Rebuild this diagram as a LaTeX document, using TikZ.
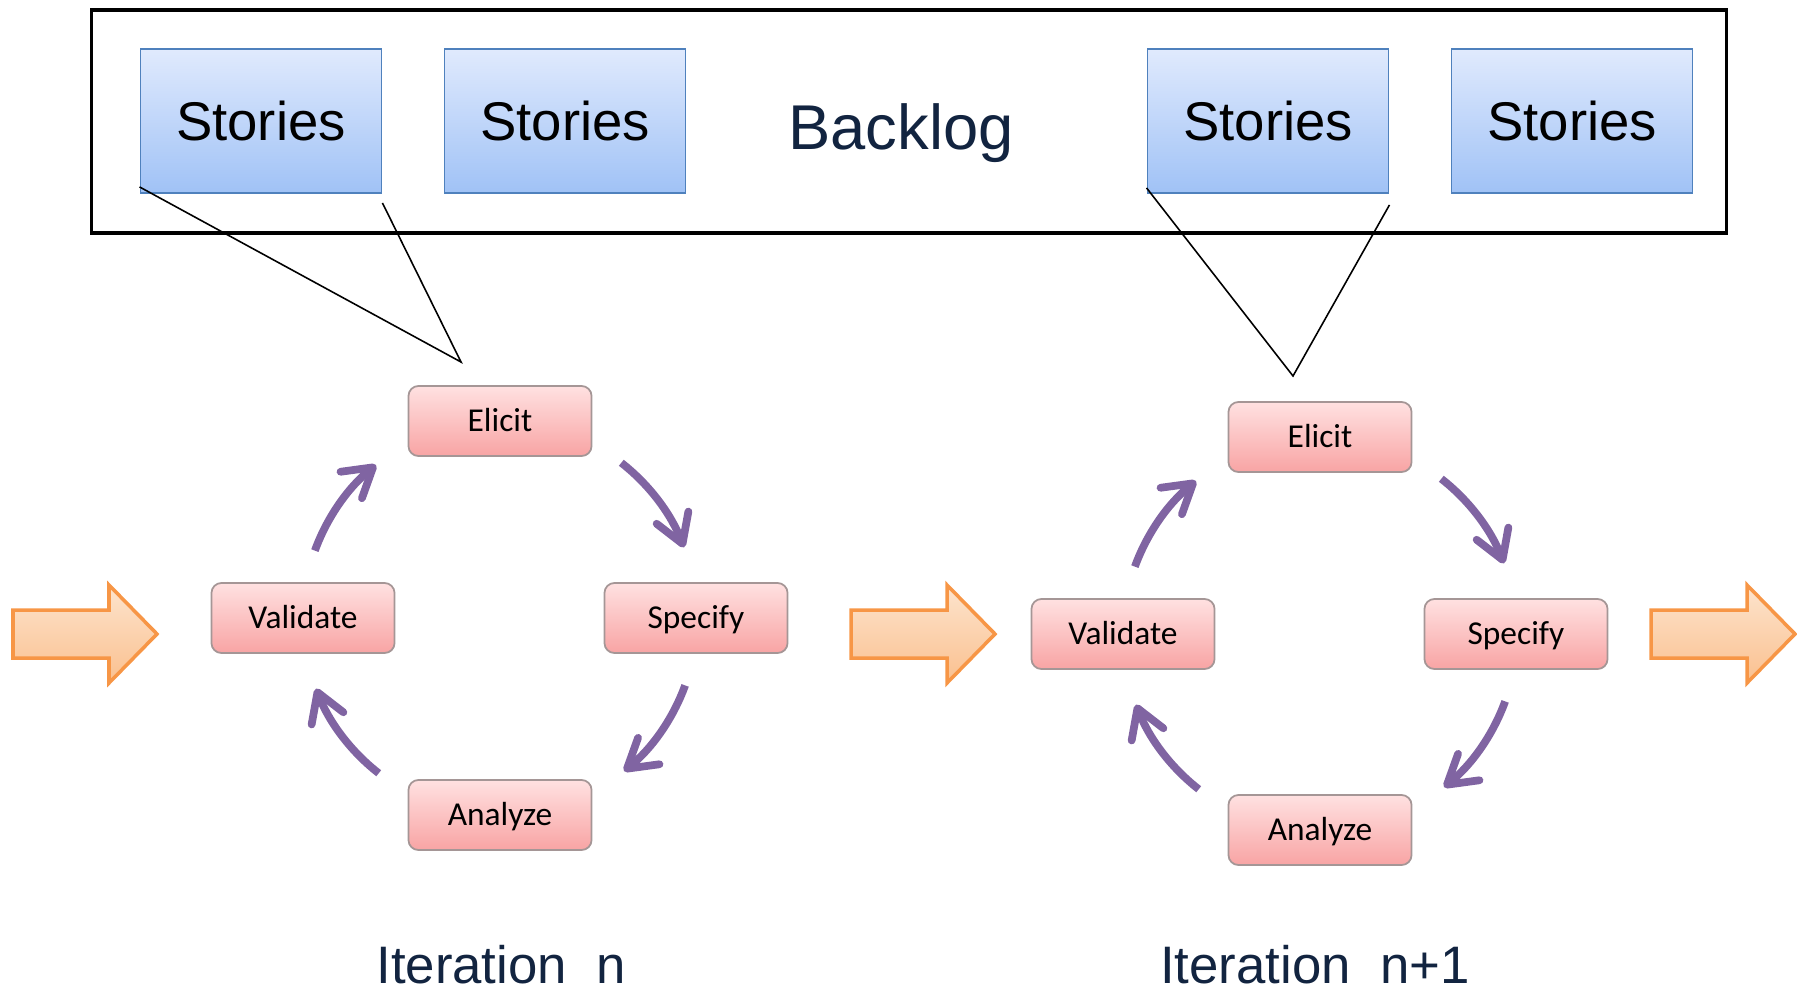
\documentclass[tikz,border=0pt]{standalone}
\usepackage{fontspec}
\setmainfont{Liberation Sans}
\newfontfamily\boxfont{Carlito}
\usetikzlibrary{arrows.meta}
\definecolor{navy}{RGB}{18,36,64}
\definecolor{storyline}{RGB}{79,129,189}
\definecolor{storytop}{RGB}{224,234,253}
\definecolor{storybot}{RGB}{160,194,246}
\definecolor{stageline}{RGB}{165,150,150}
\definecolor{stagetop}{RGB}{255,225,225}
\definecolor{stagebot}{RGB}{248,164,164}
\definecolor{purp}{RGB}{128,100,162}
\definecolor{flowline}{RGB}{247,150,70}
\definecolor{flowtop}{RGB}{253,228,205}
\definecolor{flowbot}{RGB}{250,192,143}

\begin{document}
\begin{tikzpicture}[x=0.01cm,y=0.01cm,
  storybox/.style={draw=storyline,line width=0.5pt,top color=storytop,bottom color=storybot,
    minimum width=2.41cm,minimum height=1.44cm,font=\fontsize{15.5pt}{18pt}\selectfont,
    text height=11.1pt,text depth=0pt},
  stagebox/.style={draw=stageline,line width=0.5pt,rounded corners=0.1cm,top color=stagetop,
    bottom color=stagebot,minimum width=1.83cm,minimum height=0.70cm,
    font=\boxfont\fontsize{9.5pt}{11pt}\selectfont,text height=6.1pt,text depth=0pt},
  cyclearrow/.style={draw=purp,line width=2.2pt,-{Straight Barb[length=2.8mm,width=3.4mm,round]}},
  flowarrow/.style={draw=flowline,line width=1pt,top color=flowtop,bottom color=flowbot},
  captiontext/.style={text=navy,anchor=base}]
  \useasboundingbox (0,0) rectangle (1797,-987);

    \node[draw,line width=1pt,minimum width=16.34cm,minimum height=2.23cm](bk) at (909,-121.5){};
      \node[storybox](s1) at (261,-121){Stories};
      \node[storybox](s2) at (565,-121){Stories};
      \node[storybox](s3) at (1268,-121){Stories};
      \node[storybox](s4) at (1572,-121){Stories};
  \node[captiontext,font=\fontsize{18pt}{21pt}\selectfont](bl) at (901,-149){Backlog};

  \coordinate(c1) at (500,-618);
        \node[stagebox](e1) at (500,-421){Elicit};
        \node[stagebox](sp1) at (696,-618){Specify};
        \node[stagebox](an1) at (500,-815){Analyze};
        \node[stagebox](v1) at (303,-618){Validate};

  \coordinate(c2) at (1320,-634);
        \node[stagebox](e2) at (1320,-437){Elicit};
        \node[stagebox](sp2) at (1516,-634){Specify};
        \node[stagebox](an2) at (1320,-830){Analyze};
        \node[stagebox](v2) at (1123,-634){Validate};

  \draw[cyclearrow](c1) ++(52:197) arc[start angle=52,end angle=21,radius=197];
  \draw[cyclearrow](c1) ++(-20:197) arc[start angle=-20,end angle=-51,radius=197];
  \draw[cyclearrow](c1) ++(-128:197) arc[start angle=-128,end angle=-159,radius=197];
  \draw[cyclearrow](c1) ++(160:197) arc[start angle=160,end angle=129,radius=197];
  \draw[cyclearrow](c2) ++(52:197) arc[start angle=52,end angle=21,radius=197];
  \draw[cyclearrow](c2) ++(-20:197) arc[start angle=-20,end angle=-51,radius=197];
  \draw[cyclearrow](c2) ++(-128:197) arc[start angle=-128,end angle=-159,radius=197];
  \draw[cyclearrow](c2) ++(160:197) arc[start angle=160,end angle=129,radius=197];

  \coordinate(t1) at (461,-362);
  \coordinate(t2) at (1293,-376);
          \draw[line width=0.45pt]([yshift=0.07cm]s1.south west)--(t1)--([yshift=-0.09cm]s1.south east);
          \draw[line width=0.45pt]([yshift=0.06cm]s3.south west)--(t2)--([yshift=-0.11cm]s3.south east);

  \draw[flowarrow](13,-610)-- ++(96,0)-- ++(0,25)-- ++(48,-49)-- ++(-48,-49)-- ++(0,25)-- ++(-96,0)--cycle;
  \draw[flowarrow](851,-610)-- ++(96,0)-- ++(0,25)-- ++(48,-49)-- ++(-48,-49)-- ++(0,25)-- ++(-96,0)--cycle;
  \draw[flowarrow](1651,-610)-- ++(96,0)-- ++(0,25)-- ++(48,-49)-- ++(-48,-49)-- ++(0,25)-- ++(-96,0)--cycle;

  \node[captiontext,font=\fontsize{15pt}{18pt}\selectfont](it1) at (501,-983){Iteration~~n};
  \node[captiontext,font=\fontsize{15pt}{18pt}\selectfont](it2) at (1315,-983){Iteration~~n+1};

\end{tikzpicture}
\end{document}
